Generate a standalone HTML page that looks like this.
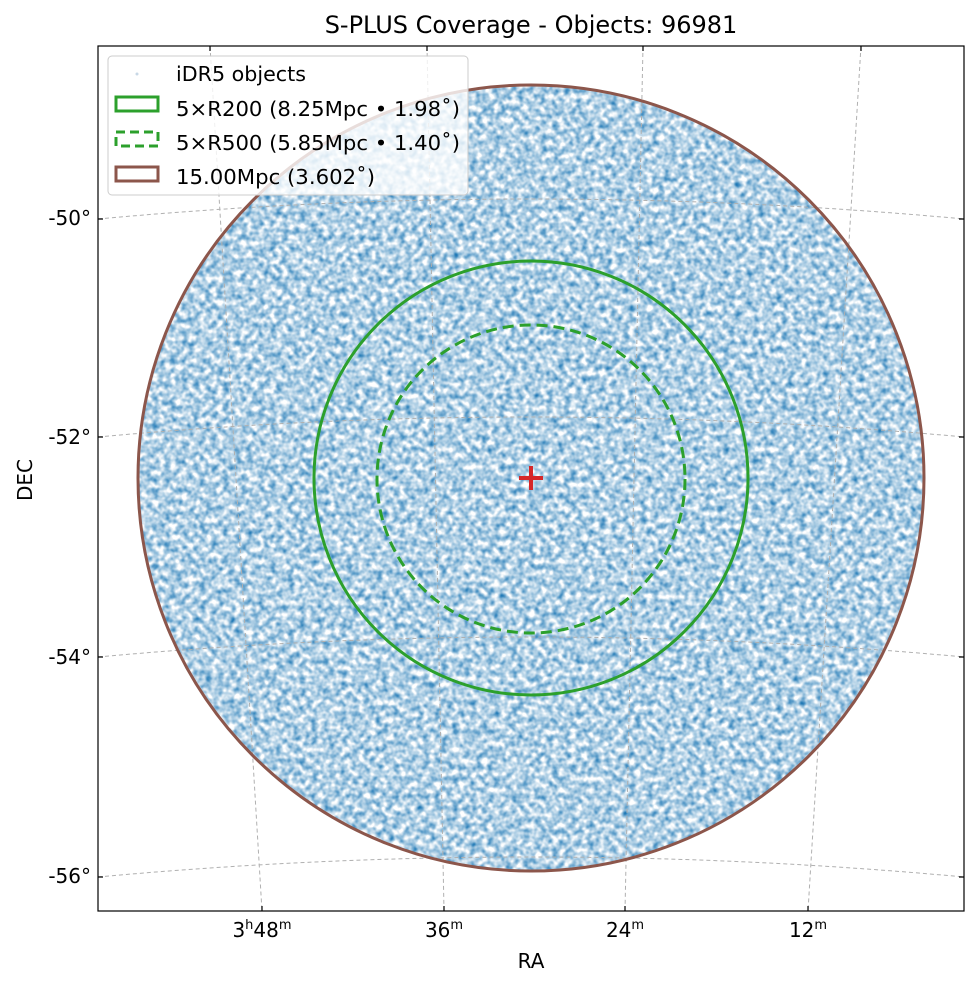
<!DOCTYPE html>
<html><head><meta charset="utf-8"><style>
html,body{margin:0;padding:0;background:#fff;}
svg text{font-family:"DejaVu Sans","Liberation Sans",sans-serif;fill:#000;}
</style></head><body>
<svg width="979" height="986" viewBox="0 0 979 986" xmlns="http://www.w3.org/2000/svg">
<defs>
<clipPath id="c"><circle cx="531" cy="478" r="393"/></clipPath>
<filter id="n" x="0" y="0" width="100%" height="100%" color-interpolation-filters="sRGB">
<feTurbulence type="fractalNoise" baseFrequency="0.17" numOctaves="2" seed="7"/>
<feGaussianBlur stdDeviation="0.6"/>
<feColorMatrix type="matrix" values="0 0 0 0 0.12  0 0 0 0 0.47  0 0 0 0 0.71  1.7 0 0 0 -0.5"/>
</filter>
<clipPath id="ax"><rect x="98" y="46" width="866" height="865"/></clipPath>
</defs>
<rect width="979" height="986" fill="#fff"/>
<g clip-path="url(#c)">
<rect x="137" y="84" width="788" height="788" fill="#fff"/>
<rect x="137" y="84" width="788" height="788" filter="url(#n)"/>
</g>
<g clip-path="url(#ax)" fill="none" stroke="#b0b0b0" stroke-width="1" stroke-dasharray="4,3">
<path d="M98 219 Q531 179 964 219"/>
<path d="M98 437 Q531 397 964 437"/>
<path d="M98 657 Q531 617 964 657"/>
<path d="M98 877 Q531 837 964 877"/>
<path d="M210 46 L262 911"/>
<path d="M427 46 L444 911"/>
<path d="M643 46 L625 911"/>
<path d="M861 46 L808 911"/>
</g>
<circle cx="531" cy="478" r="393" fill="none" stroke="#8c564b" stroke-width="3"/>
<circle cx="531" cy="478" r="217" fill="none" stroke="#2ca02c" stroke-width="3"/>
<circle cx="531" cy="479" r="154" fill="none" stroke="#2ca02c" stroke-width="3" stroke-dasharray="11,6"/>
<path d="M519 478 H543 M531 466 V490" stroke="#d62728" stroke-width="4"/>
<rect x="98" y="46" width="866" height="865" fill="none" stroke="#000" stroke-width="1.2"/>
<g stroke="#000" stroke-width="1.2">
<path d="M98 219 h5 M98 437 h5 M98 657 h5 M98 877 h5"/>
<path d="M964 219 h-5 M964 437 h-5 M964 657 h-5 M964 877 h-5"/>
<path d="M262 911 v-5 M444 911 v-5 M625 911 v-5 M808 911 v-5"/>
<path d="M210 46 v5 M427 46 v5 M643 46 v5 M861 46 v5"/>
</g>
<g font-size="20" text-anchor="end">
<text x="91" y="225">-50°</text>
<text x="91" y="444">-52°</text>
<text x="91" y="664">-54°</text>
<text x="91" y="883">-56°</text>
</g>
<g font-size="20" text-anchor="middle">
<text x="262" y="937">3<tspan font-size="13" dy="-8">h</tspan><tspan dy="8">48</tspan><tspan font-size="13" dy="-8">m</tspan></text>
<text x="444" y="937">36<tspan font-size="13" dy="-8">m</tspan></text>
<text x="625" y="937">24<tspan font-size="13" dy="-8">m</tspan></text>
<text x="808" y="937">12<tspan font-size="13" dy="-8">m</tspan></text>
<text x="531" y="968">RA</text>
<text x="0" y="0" transform="translate(32,480) rotate(-90)">DEC</text>
<text x="531" y="33" font-size="24">S-PLUS Coverage - Objects: 96981</text>
</g>
<rect x="108" y="56" width="360" height="139" rx="4" fill="#fff" fill-opacity="0.8" stroke="#cccccc"/>
<circle cx="137" cy="74" r="1.5" fill="#c8d8e6"/>
<rect x="116" y="97" width="42" height="14" fill="none" stroke="#2ca02c" stroke-width="3"/>
<rect x="116" y="132" width="42" height="14" fill="none" stroke="#2ca02c" stroke-width="3" stroke-dasharray="9,5"/>
<rect x="116" y="167" width="42" height="14" fill="none" stroke="#8c564b" stroke-width="3"/>
<g font-size="20">
<text x="176" y="81" textLength="130" lengthAdjust="spacingAndGlyphs">iDR5 objects</text>
<text x="176" y="116" textLength="284" lengthAdjust="spacingAndGlyphs">5×R200 (8.25Mpc • 1.98˚)</text>
<text x="176" y="150" textLength="284" lengthAdjust="spacingAndGlyphs">5×R500 (5.85Mpc • 1.40˚)</text>
<text x="176" y="184" textLength="199" lengthAdjust="spacingAndGlyphs">15.00Mpc (3.602˚)</text>
</g>
</svg>
</body></html>
